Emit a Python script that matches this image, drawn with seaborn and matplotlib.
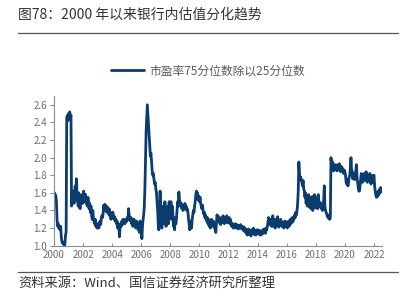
import numpy as np
import matplotlib
matplotlib.use("Agg")
import matplotlib.pyplot as plt
import seaborn as sns

# --- semi-monthly readings (1st and 15th of each month) ---
v2000 = [1.58, 1.60, 1.55, 1.57, 1.50, 1.30, 1.22, 1.25, 1.20, 1.22, 1.18, 1.22,
         1.10, 1.05, 1.03, 1.02, 1.04, 1.00, 1.02, 1.12, 1.15, 2.45, 2.48, 2.42]
v2001 = [2.50, 2.46, 2.52, 2.44, 2.48, 1.45, 1.60, 1.50, 1.62, 1.48, 1.55, 1.68,
         1.52, 1.76, 1.58, 1.50, 1.45, 1.60, 1.52, 1.42, 1.55, 1.50, 1.58, 1.48]
v2002 = [1.52, 1.62, 1.55, 1.50, 1.58, 1.48, 1.52, 1.45, 1.55, 1.50, 1.42, 1.48,
         1.38, 1.45, 1.35, 1.30, 1.40, 1.32, 1.28, 1.25, 1.30, 1.22, 1.25, 1.20]
v2003 = [1.22, 1.25, 1.20, 1.26, 1.28, 1.24, 1.30, 1.34, 1.32, 1.36, 1.46, 1.40,
         1.47, 1.42, 1.45, 1.38, 1.44, 1.40, 1.36, 1.42, 1.34, 1.38, 1.30, 1.36]
v2004 = [1.32, 1.38, 1.35, 1.30, 1.33, 1.28, 1.30, 1.25, 1.28, 1.20, 1.25, 1.22,
         1.10, 1.20, 1.25, 1.22, 1.28, 1.24, 1.30, 1.26, 1.28, 1.25, 1.30, 1.27]
v2005 = [1.28, 1.32, 1.30, 1.42, 1.35, 1.30, 1.28, 1.32, 1.25, 1.30, 1.22, 1.28,
         1.30, 1.26, 1.24, 1.20, 1.28, 1.22, 1.26, 1.18, 1.24, 1.15, 1.28, 1.22]
v2006 = [1.20, 1.08, 1.22, 1.30, 1.35, 1.45, 1.65, 2.00, 2.30, 2.45, 2.60, 2.48,
         2.35, 2.25, 2.10, 2.02, 2.05, 1.95, 1.85, 1.80, 1.82, 1.75, 1.70, 1.72]
v2007 = [1.65, 1.60, 1.50, 1.40, 1.25, 1.18, 1.35, 1.62, 1.45, 1.30, 1.20, 1.38,
         1.45, 1.25, 1.35, 1.50, 1.30, 1.22, 1.40, 1.28, 1.45, 1.25, 1.50, 1.35]
v2008 = [1.42, 1.50, 1.30, 1.45, 1.38, 1.22, 1.28, 1.18, 1.32, 1.25, 1.30, 1.40,
         1.50, 1.45, 1.61, 1.52, 1.50, 1.45, 1.48, 1.42, 1.46, 1.40, 1.45, 1.42]
v2009 = [1.48, 1.42, 1.45, 1.40, 1.42, 1.38, 1.30, 1.25, 1.18, 1.22, 1.28, 1.20,
         1.30, 1.35, 1.40, 1.38, 1.45, 1.50, 1.58, 1.62, 1.55, 1.60, 1.52, 1.56]
v2010 = [1.50, 1.55, 1.48, 1.45, 1.42, 1.46, 1.40, 1.36, 1.38, 1.32, 1.35, 1.30,
         1.28, 1.32, 1.25, 1.30, 1.22, 1.28, 1.20, 1.26, 1.30, 1.24, 1.22, 1.28]
v2011 = [1.25, 1.20, 1.18, 1.15, 1.25, 1.35, 1.30, 1.28, 1.33, 1.26, 1.30, 1.24,
         1.28, 1.32, 1.26, 1.34, 1.28, 1.25, 1.32, 1.27, 1.30, 1.34, 1.26, 1.30]
v2012 = [1.28, 1.32, 1.25, 1.30, 1.27, 1.22, 1.25, 1.23, 1.20, 1.24, 1.22, 1.25,
         1.20, 1.23, 1.24, 1.21, 1.19, 1.23, 1.22, 1.20, 1.24, 1.21, 1.19, 1.22]
v2013 = [1.20, 1.17, 1.21, 1.16, 1.19, 1.14, 1.18, 1.12, 1.16, 1.19, 1.13, 1.17,
         1.15, 1.11, 1.18, 1.14, 1.16, 1.20, 1.13, 1.17, 1.15, 1.12, 1.18, 1.14]
v2014 = [1.15, 1.18, 1.13, 1.17, 1.14, 1.12, 1.16, 1.13, 1.18, 1.14, 1.15, 1.19,
         1.17, 1.14, 1.20, 1.18, 1.22, 1.26, 1.32, 1.28, 1.24, 1.30, 1.26, 1.22]
v2015 = [1.28, 1.34, 1.22, 1.30, 1.25, 1.20, 1.30, 1.24, 1.27, 1.33, 1.25, 1.21,
         1.28, 1.23, 1.30, 1.26, 1.22, 1.27, 1.25, 1.20, 1.24, 1.28, 1.22, 1.27]
v2016 = [1.25, 1.20, 1.24, 1.28, 1.22, 1.26, 1.30, 1.25, 1.28, 1.32, 1.27, 1.31,
         1.30, 1.35, 1.32, 1.38, 1.35, 1.40, 1.48, 1.62, 1.95, 1.82, 1.75, 1.78]
v2017 = [1.75, 1.72, 1.68, 1.74, 1.65, 1.62, 1.55, 1.60, 1.48, 1.56, 1.45, 1.52,
         1.58, 1.44, 1.50, 1.55, 1.42, 1.48, 1.56, 1.40, 1.52, 1.46, 1.58, 1.43]
v2018 = [1.52, 1.45, 1.55, 1.42, 1.58, 1.46, 1.50, 1.44, 1.47, 1.42, 1.48, 1.40,
         1.45, 1.52, 1.68, 1.45, 1.40, 1.38, 1.36, 1.33, 1.35, 1.31, 1.34, 1.30]
v2019 = [1.32, 2.00, 1.92, 1.88, 1.95, 1.85, 1.90, 1.86, 1.92, 1.88, 1.90, 1.85,
         1.92, 1.88, 1.86, 1.93, 1.88, 1.84, 1.90, 1.86, 1.88, 1.84, 1.82, 1.86]
v2020 = [1.84, 1.80, 1.72, 1.70, 1.75, 1.68, 1.72, 1.78, 1.80, 1.88, 2.00, 1.85,
         1.85, 1.76, 1.82, 1.78, 1.75, 1.80, 1.85, 1.92, 1.78, 1.72, 1.66, 1.62]
v2021 = [1.62, 1.68, 1.75, 1.82, 1.78, 1.72, 1.80, 1.76, 1.82, 1.74, 1.78, 1.84,
         1.76, 1.72, 1.80, 1.74, 1.78, 1.82, 1.75, 1.70, 1.80, 1.76, 1.72, 1.78]
v2022 = [1.80, 1.68, 1.62, 1.58, 1.55, 1.60, 1.56, 1.62, 1.58, 1.64, 1.60, 1.66,
         1.62]

values = np.array(v2000 + v2001 + v2002 + v2003 + v2004 + v2005 + v2006 + v2007
                  + v2008 + v2009 + v2010 + v2011 + v2012 + v2013 + v2014 + v2015
                  + v2016 + v2017 + v2018 + v2019 + v2020 + v2021 + v2022)
years = 2000 + np.arange(len(values)) / 24

series_name = "市盈率75分位数除以25分位数"
title = "图78：2000 年以来银行内估值分化趋势"
source = "资料来源：Wind、国信证券经济研究所整理"
x_ticks = list(range(2000, 2023, 2))
y_ticks = [1.0, 1.2, 1.4, 1.6, 1.8, 2.0, 2.2, 2.4, 2.6]

sns.set_style("ticks")
plt.rcParams["font.family"] = ["Noto Sans CJK SC", "DejaVu Sans"]

fig = plt.figure(figsize=(4.09, 3.07), dpi=100)
ax = fig.add_axes([54 / 409, 1 - 245.7 / 307, 328 / 409, 149.7 / 307])

line_color = "#0b3c6e"
sns.lineplot(x=years, y=values, ax=ax, color=line_color, linewidth=2.0,
             label=series_name, legend=False)

ax.set_xlim(2000, 2022.55)
ax.set_ylim(1.0, 2.7)
ax.set_xticks(x_ticks)
ax.set_xticklabels([str(y) for y in x_ticks])
ax.set_yticks(y_ticks)
ax.set_yticklabels([f"{v:.1f}" for v in y_ticks])
for s in ["top", "right"]:
    ax.spines[s].set_visible(False)
for s in ["left", "bottom"]:
    ax.spines[s].set_color("#8c8c8c")
    ax.spines[s].set_linewidth(0.8)
ax.tick_params(axis="y", direction="out", length=3, width=0.8, color="#8c8c8c",
               labelsize=7, labelcolor="#6e6e6e", pad=2)
ax.tick_params(axis="x", direction="in", length=2.5, width=0.8, color="#8c8c8c",
               labelsize=7, labelcolor="#6e6e6e", pad=3)
ax.set_xlabel("")
ax.set_ylabel("")

handles, labels = ax.get_legend_handles_labels()
fig.legend(handles, labels, loc="center", bbox_to_anchor=(208 / 409, 1 - 71 / 307),
           frameon=False, fontsize=8.5, handlelength=2.8, handletextpad=0.4,
           labelcolor="#595959")

# header and footer
fig.text(18 / 409, 1 - 15 / 307, title, fontsize=10, color="#333333",
         ha="left", va="center")
fig.add_artist(plt.Line2D([18 / 409, 398 / 409], [1 - 33 / 307, 1 - 33 / 307],
                          color="#555555", linewidth=0.9))
fig.add_artist(plt.Line2D([18 / 409, 398 / 409], [1 - 272 / 307, 1 - 272 / 307],
                          color="#555555", linewidth=0.9))
fig.text(18 / 409, 1 - 283 / 307, source, fontsize=9.5, color="#333333",
         ha="left", va="center")

fig.savefig("out.png", dpi=100)
